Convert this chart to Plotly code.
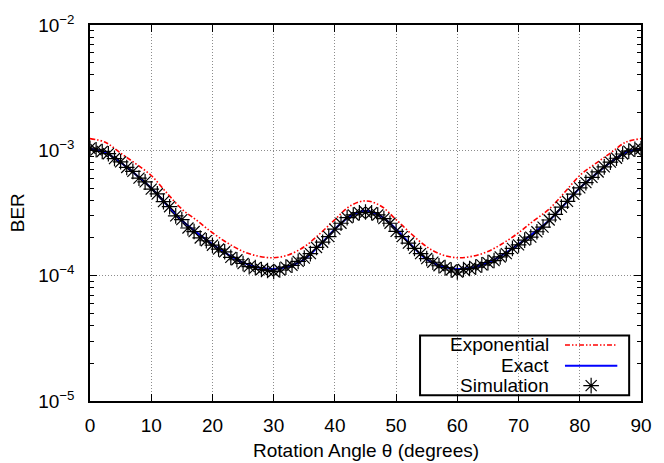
import plotly.graph_objects as go

# Rotation angle grid for the analytic curves (degrees)
theta = [
    0, 2.5, 5, 7.5, 10, 12.5, 15, 17.5, 20, 22.5, 25, 27.5, 30, 32.5, 35, 37.5, 40, 42.5, 45,
    47.5, 50, 52.5, 55, 57.5, 60, 62.5, 65, 67.5, 70, 72.5, 75, 77.5, 80, 82.5, 85, 87.5, 90,
]

ber_exponential = [
    1.24e-3, 1.16e-3, 9.5e-4, 7.8e-4, 6.3e-4, 4.6e-4, 3.4e-4, 2.75e-4, 2.2e-4, 1.82e-4,
    1.56e-4, 1.43e-4, 1.39e-4, 1.47e-4, 1.70e-4, 2.15e-4, 2.8e-4, 3.6e-4, 3.95e-4,
    3.6e-4, 2.8e-4, 2.15e-4, 1.70e-4, 1.47e-4, 1.39e-4, 1.43e-4, 1.56e-4, 1.82e-4,
    2.2e-4, 2.75e-4, 3.4e-4, 4.6e-4, 6.3e-4, 7.8e-4, 9.5e-4, 1.16e-3, 1.24e-3,
]

ber_exact = [
    1.03e-3, 9.6e-4, 8.0e-4, 6.4e-4, 5.0e-4, 3.7e-4, 2.75e-4, 2.2e-4, 1.78e-4, 1.48e-4,
    1.27e-4, 1.16e-4, 1.13e-4, 1.19e-4, 1.35e-4, 1.75e-4, 2.35e-4, 2.98e-4, 3.3e-4,
    2.98e-4, 2.35e-4, 1.75e-4, 1.35e-4, 1.19e-4, 1.13e-4, 1.16e-4, 1.27e-4, 1.48e-4,
    1.78e-4, 2.2e-4, 2.75e-4, 3.7e-4, 5.0e-4, 6.4e-4, 8.0e-4, 9.6e-4, 1.03e-3,
]

# Simulation points, one per degree
theta_sim = list(range(0, 91))
ber_sim = [
    1.04e-3, 1.01e-3, 0.98e-3, 0.94e-3, 0.86e-3, 0.81e-3, 0.73e-3, 0.68e-3, 0.60e-3, 0.56e-3,
    0.49e-3, 0.45e-3, 0.39e-3, 0.355e-3, 0.30e-3, 0.28e-3, 0.24e-3, 0.225e-3, 0.20e-3, 0.19e-3,
    0.175e-3, 0.163e-3, 0.155e-3, 0.140e-3, 0.134e-3, 0.125e-3, 0.118e-3, 0.116e-3, 0.112e-3, 0.110e-3,
    0.108e-3, 0.111e-3, 0.117e-3, 0.121e-3, 0.130e-3, 0.138e-3, 0.150e-3, 0.168e-3, 0.185e-3, 0.205e-3,
    0.235e-3, 0.262e-3, 0.290e-3, 0.305e-3, 0.318e-3, 0.322e-3, 0.318e-3, 0.305e-3, 0.285e-3, 0.262e-3,
    0.226e-3, 0.205e-3, 0.182e-3, 0.165e-3, 0.150e-3, 0.137e-3, 0.128e-3, 0.120e-3, 0.116e-3, 0.111e-3,
    0.107e-3, 0.112e-3, 0.114e-3, 0.117e-3, 0.122e-3, 0.127e-3, 0.132e-3, 0.141e-3, 0.150e-3, 0.165e-3,
    0.176e-3, 0.192e-3, 0.203e-3, 0.224e-3, 0.244e-3, 0.278e-3, 0.308e-3, 0.352e-3, 0.392e-3, 0.447e-3,
    0.502e-3, 0.553e-3, 0.608e-3, 0.672e-3, 0.738e-3, 0.805e-3, 0.865e-3, 0.935e-3, 0.985e-3, 1.02e-3,
    1.03e-3,
]

x_ticks = [0, 10, 20, 30, 40, 50, 60, 70, 80, 90]
y_ticks = [1e-5, 1e-4, 1e-3, 1e-2]
y_ticktext = ["10<sup>\u22125</sup>", "10<sup>\u22124</sup>", "10<sup>\u22123</sup>", "10<sup>\u22122</sup>"]

legend_names = ["Exponential", "Exact", "Simulation"]

FONT = "Liberation Sans, Arial, Helvetica, sans-serif"
RED = "#ff0000"
BLUE = "#0000ff"
DASHDOT = "5px,2px,1.5px,2px,1.5px,2px"
STAR = dict(symbol="asterisk-open", size=13, color="black", line=dict(color="black", width=1.2))

fig = go.Figure()

fig.add_trace(go.Scatter(
    x=theta, y=ber_exponential, mode="lines", name=legend_names[0],
    line=dict(color=RED, width=1.6, dash=DASHDOT, shape="spline"),
))
fig.add_trace(go.Scatter(
    x=theta, y=ber_exact, mode="lines", name=legend_names[1],
    line=dict(color=BLUE, width=2, shape="spline"),
))
fig.add_trace(go.Scatter(
    x=theta_sim, y=ber_sim, mode="markers", name=legend_names[2], marker=STAR,
))

# Hand-made gnuplot-style legend (text on the left, sample on the right)
lx0, lx1, ly0, ly1 = 0.599, 0.9785, 0.0156, 0.174
row_y = [0.149, 0.094, 0.041]
text_x = 0.837
samp_x0, samp_x1 = 0.862, 0.957

fig.add_shape(type="rect", xref="paper", yref="paper", x0=lx0, x1=lx1, y0=ly0, y1=ly1,
              line=dict(color="black", width=2), fillcolor="white", layer="between")
fig.add_shape(type="line", xref="paper", yref="paper", x0=samp_x0, x1=samp_x1, y0=row_y[0], y1=row_y[0],
              line=dict(color=RED, width=1.6, dash=DASHDOT), layer="above")
fig.add_shape(type="line", xref="paper", yref="paper", x0=samp_x0, x1=samp_x1, y0=row_y[1], y1=row_y[1],
              line=dict(color=BLUE, width=2), layer="above")
fig.add_trace(go.Scatter(
    x=[(samp_x0 + samp_x1) / 2], y=[row_y[2]], xaxis="x2", yaxis="y2", mode="markers",
    marker=STAR, showlegend=False, hoverinfo="skip", cliponaxis=False,
))
for name, ry in zip(legend_names, row_y):
    fig.add_annotation(x=text_x, y=ry, xref="paper", yref="paper", text=name, showarrow=False,
                       xanchor="right", yanchor="middle", font=dict(size=19, color="black", family=FONT))

# Axis titles
fig.add_annotation(x=0.5, y=-0.132, xref="paper", yref="paper", text="Rotation Angle \u03b8 (degrees)",
                   showarrow=False, xanchor="center", yanchor="middle",
                   font=dict(size=19, color="black", family=FONT))
fig.add_annotation(x=-0.132, y=0.5, xref="paper", yref="paper", text="BER", textangle=-90,
                   showarrow=False, xanchor="center", yanchor="middle",
                   font=dict(size=19, color="black", family=FONT))

fig.update_layout(
    width=664,
    height=463,
    margin=dict(l=90, r=15, t=16, b=62),
    paper_bgcolor="white",
    plot_bgcolor="white",
    showlegend=False,
    font=dict(family=FONT, size=19, color="black"),
    xaxis=dict(
        range=[0, 90], tickvals=x_ticks, ticks="inside", ticklen=7, tickwidth=1, tickcolor="black",
        showline=True, linecolor="black", linewidth=1.5, mirror="ticks",
        showgrid=True, gridcolor="#8c8c8c", griddash="1px,2px", gridwidth=1,
        zeroline=False, ticklabelstandoff=6,
    ),
    yaxis=dict(
        type="log", range=[-5, -2], tickvals=y_ticks, ticktext=y_ticktext,
        ticks="inside", ticklen=7, tickwidth=1, tickcolor="black",
        minor=dict(ticks="inside", ticklen=4, tickcolor="black", dtick="D1", showgrid=False),
        showline=True, linecolor="black", linewidth=1.5, mirror="ticks",
        showgrid=True, gridcolor="#8c8c8c", griddash="1px,2px", gridwidth=1,
        zeroline=False, ticklabelstandoff=10,
    ),
    xaxis2=dict(overlaying="x", range=[0, 1], visible=False, fixedrange=True),
    yaxis2=dict(overlaying="y", range=[0, 1], visible=False, fixedrange=True),
)

# drop the browser's default page margin so the figure sits at the window corner
fig.write_html(
    "out.html",
    config={"displayModeBar": False},
    post_script="document.body.style.margin='0';",
)
